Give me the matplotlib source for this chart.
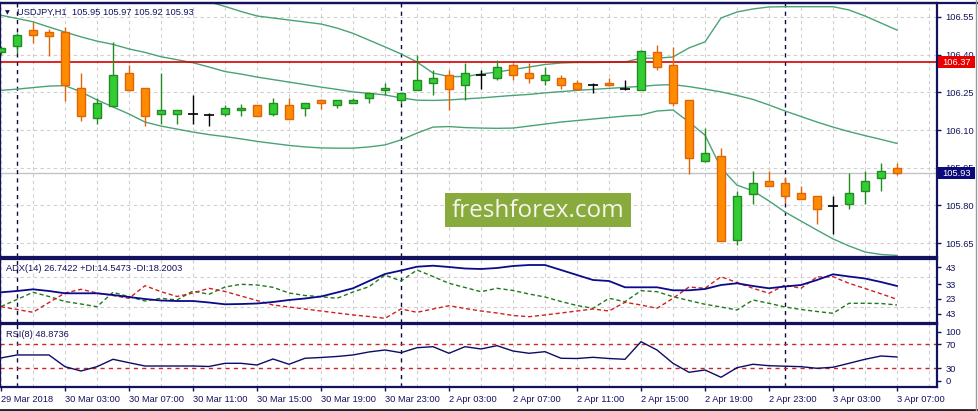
import matplotlib
matplotlib.use('Agg')
import matplotlib.pyplot as plt
from matplotlib.patches import Rectangle

W, H, DPI = 979, 411, 100
plt.rcParams['font.family'] = ['Liberation Sans', 'DejaVu Sans']

# ---------------- data (USDJPY H1, 29 Mar 23:00 .. 3 Apr 07:00) ----------------
opens = [106.411, 106.436, 106.497, 106.490, 106.489, 106.266, 106.147, 106.197, 106.327, 106.266,
         106.165, 106.165, 106.165, 106.160, 106.165, 106.178, 106.198, 106.166, 106.198, 106.186,
         106.219, 106.199, 106.207, 106.227, 106.258, 106.219, 106.258, 106.286, 106.318, 106.278,
         106.318, 106.306, 106.358, 106.327, 106.298, 106.306, 106.286, 106.278, 106.286, 106.265,
         106.258, 106.410, 106.358, 106.219, 105.976, 105.996, 105.664, 105.847, 105.896, 105.888,
         105.848, 105.837, 105.797, 105.805, 105.856, 105.908, 105.95]
highs = [106.435, 106.486, 106.529, 106.502, 106.509, 106.328, 106.227, 106.449, 106.360, 106.267,
         106.328, 106.180, 106.238, 106.168, 106.199, 106.205, 106.200, 106.226, 106.226, 106.208,
         106.224, 106.220, 106.226, 106.248, 106.286, 106.248, 106.399, 106.338, 106.338, 106.368,
         106.338, 106.378, 106.365, 106.368, 106.350, 106.318, 106.298, 106.286, 106.306, 106.298,
         106.417, 106.439, 106.432, 106.219, 106.110, 106.030, 105.858, 105.937, 105.937, 105.912,
         105.877, 105.836, 105.837, 105.928, 105.937, 105.968, 105.97]
lows = [106.399, 106.407, 106.448, 106.396, 106.217, 106.137, 106.124, 106.196, 106.256, 106.116,
        106.124, 106.125, 106.125, 106.117, 106.157, 106.157, 106.156, 106.157, 106.144, 106.158,
        106.185, 106.187, 106.206, 106.207, 106.238, 106.207, 106.258, 106.238, 106.179, 106.219,
        106.265, 106.298, 106.298, 106.286, 106.278, 106.265, 106.258, 106.246, 106.277, 106.258,
        106.258, 106.338, 106.196, 105.926, 105.975, 105.657, 105.644, 105.805, 105.876, 105.810,
        105.824, 105.725, 105.685, 105.785, 105.805, 105.856, 105.92]
closes = [106.427, 106.478, 106.477, 106.476, 106.278, 106.157, 106.207, 106.318, 106.258, 106.157,
          106.179, 106.179, 106.165, 106.160, 106.187, 106.187, 106.158, 106.206, 106.146, 106.206,
          106.206, 106.219, 106.219, 106.246, 106.266, 106.246, 106.298, 106.306, 106.265, 106.327,
          106.318, 106.350, 106.318, 106.306, 106.318, 106.278, 106.265, 106.278, 106.278, 106.265,
          106.416, 106.350, 106.207, 105.988, 106.008, 105.657, 105.837, 105.888, 105.876, 105.837,
          105.825, 105.785, 105.797, 105.848, 105.896, 105.936, 105.93]

bb_upper = [106.856, 106.825, 106.793, 106.745, 106.703, 106.691, 106.689, 106.689, 106.681, 106.685,
            106.668, 106.655, 106.644, 106.610, 106.592, 106.572, 106.554, 106.546, 106.538, 106.530,
            106.522, 106.506, 106.485, 106.458, 106.431, 106.403, 106.371, 106.327, 106.313, 106.313,
            106.323, 106.331, 106.341, 106.351, 106.361, 106.367, 106.369, 106.369, 106.370, 106.371,
            106.386, 106.386, 106.391, 106.427, 106.451, 106.546, 106.570, 106.582, 106.590, 106.591,
            106.591, 106.591, 106.591, 106.578, 106.554, 106.526, 106.498]
bb_middle = [106.557, 106.544, 106.531, 106.510, 106.490, 106.471, 106.454, 106.441, 106.423, 106.409,
             106.392, 106.380, 106.368, 106.351, 106.333, 106.323, 106.311, 106.301, 106.291, 106.281,
             106.271, 106.262, 106.252, 106.246, 106.240, 106.228, 106.219, 106.218, 106.220, 106.224,
             106.228, 106.233, 106.238, 106.242, 106.248, 106.253, 106.258, 106.262, 106.266, 106.270,
             106.274, 106.279, 106.281, 106.273, 106.263, 106.252, 106.238, 106.222, 106.200, 106.176,
             106.154, 106.132, 106.112, 106.094, 106.078, 106.063, 106.047]
bb_lower = [106.258, 106.263, 106.269, 106.275, 106.277, 106.252, 106.220, 106.192, 106.164, 106.132,
            106.116, 106.104, 106.092, 106.082, 106.074, 106.065, 106.055, 106.047, 106.039, 106.033,
            106.029, 106.028, 106.028, 106.033, 106.041, 106.061, 106.088, 106.112, 106.114, 106.110,
            106.108, 106.107, 106.108, 106.116, 106.124, 106.132, 106.138, 106.144, 106.150, 106.156,
            106.160, 106.176, 106.180, 106.132, 106.080, 105.949, 105.881, 105.858, 105.818, 105.774,
            105.738, 105.702, 105.667, 105.639, 105.615, 105.605, 105.601]

adx = [22.69, 23.52, 24.61, 23.52, 22.05, 22.05, 22.05, 20.96, 19.68, 18.40,
       17.43, 17.11, 17.11, 16.15, 15.00, 15.19, 15.51, 16.47, 17.75, 18.72,
       20.00, 22.56, 25.26, 29.93, 34.42, 36.67, 39.10, 39.74, 38.91, 37.95,
       37.63, 38.27, 39.55, 40.19, 40.19, 36.99, 33.78, 30.58, 29.93, 25.90,
       25.90, 25.90, 23.97, 23.97, 24.81, 27.37, 28.46, 26.73, 25.26, 26.41,
       27.37, 30.58, 34.23, 32.82, 31.54, 29.29, 26.74]
plus_di = [13.59, 18.08, 22.69, 20.00, 16.79, 15.19, 13.46, 22.69, 19.87, 17.11,
           18.84, 17.76, 23.52, 21.41, 26.09, 27.82, 27.37, 25.90, 22.24, 20.64,
           19.87, 18.84, 22.88, 26.28, 33.78, 29.93, 36.99, 32.82, 28.46, 25.77,
           23.08, 25.26, 23.84, 21.60, 19.68, 16.79, 14.23, 12.43, 18.84, 16.67,
           23.72, 23.08, 19.87, 17.43, 15.00, 13.27, 11.34, 17.76, 15.64, 13.27,
           11.67, 10.38, 9.23, 15.64, 15.64, 15.51, 14.55]
minus_di = [13.46, 11.67, 9.87, 16.15, 22.24, 24.61, 22.24, 20.64, 18.84, 26.92,
            23.08, 20.00, 22.24, 25.26, 23.20, 20.32, 17.43, 14.55, 13.27, 11.99,
            10.70, 9.42, 8.14, 7.18, 6.02, 11.99, 9.87, 11.99, 14.10, 12.31,
            10.70, 9.42, 7.82, 7.05, 8.14, 9.42, 10.70, 11.99, 10.70, 16.28,
            14.55, 12.43, 18.84, 26.09, 25.26, 32.69, 28.97, 25.26, 22.05, 27.37,
            25.26, 32.50, 32.69, 28.46, 25.13, 21.73, 18.20]
rsi = [47.2, 52.2, 52.2, 52.2, 32.7, 25.5, 32.7, 45.0, 39.3, 33.8,
       33.8, 33.8, 33.8, 33.0, 38.3, 38.3, 35.5, 45.5, 36.7, 46.7,
       48.0, 49.7, 52.2, 57.2, 60.5, 56.0, 64.3, 66.0, 55.0, 66.0,
       62.2, 67.7, 58.8, 55.0, 57.7, 46.7, 46.3, 48.3, 46.3, 45.0,
       74.3, 60.5, 38.3, 23.3, 27.2, 15.0, 31.0, 36.7, 34.3, 33.5,
       32.7, 30.0, 31.7, 38.3, 45.0, 50.5, 48.87]

x_label_idx = [0, 4, 8, 12, 16, 20, 24, 28, 32, 36, 40, 44, 48, 52, 56]
x_labels = ['29 Mar 2018', '30 Mar 03:00', '30 Mar 07:00', '30 Mar 11:00', '30 Mar 15:00',
            '30 Mar 19:00', '30 Mar 23:00', '2 Apr 03:00', '2 Apr 07:00', '2 Apr 11:00',
            '2 Apr 15:00', '2 Apr 19:00', '2 Apr 23:00', '3 Apr 03:00', '3 Apr 07:00']
day_sep_idx = [1, 25, 49]
price_ticks = [106.55, 106.40, 106.25, 106.10, 105.95, 105.80, 105.65]
alert_level = 106.37
adx_tick_pos = [38.9, 28.0, 18.4, 8.8]
adx_tick_labels = ['43', '33', '23', '43']
adx_grid = [32.69, 13.46]
rsi_tick_pos = [91.0, 70, 30, 9.3]
rsi_tick_labels = ['100', '70', '30', '0']
rsi_levels = [70, 30]

# ---------------- styling ----------------
NAVY = '#12125e'
GRID = '#cfcfcf'
BB = '#4aa276'
UP_FC, UP_EC = '#32cd32', '#238b23'
DN_FC, DN_EC = '#ff8c00', '#e0650a'
FS = 6.7

fig = plt.figure(figsize=(W / DPI, H / DPI), dpi=DPI, facecolor='white')


def rect(x0, y0, x1, y1):
    return [x0 / W, 1 - y1 / H, (x1 - x0) / W, (y1 - y0) / H]


def fx(x):
    return x / W


def fy(y):
    return 1 - y / H


ax = fig.add_axes(rect(0, 3, 937, 257))
ax_adx = fig.add_axes(rect(0, 259, 937, 322.7))
ax_rsi = fig.add_axes(rect(0, 324, 937, 386.7))

n = len(closes)
idx = list(range(n))
for a in (ax, ax_adx, ax_rsi):
    a.set_xlim(-1 / 16, 936 / 16)
    a.set_facecolor('white')
    for s in a.spines.values():
        s.set_color(NAVY)
        s.set_linewidth(1.6)
    for k in range(0, 59, 2):
        a.axvline(k, color=GRID, lw=0.8, ls=(0, (3, 3)), zorder=0)
    for d in day_sep_idx:
        a.axvline(d, color='#0c0c3c', lw=1.0, ls=(0, (3, 3)), zorder=1)
    a.yaxis.tick_right()
    a.tick_params(axis='y', colors=NAVY, labelcolor=NAVY, length=3, width=1,
                  pad=3, labelsize=FS)
    a.tick_params(axis='x', bottom=False, labelbottom=False)

# ---------------- main price panel ----------------
ax.set_ylim(105.595, 106.6057)
ax.set_yticks(price_ticks)
ax.set_yticklabels([f'{p:.2f}' for p in price_ticks])
for p in price_ticks:
    ax.axhline(p, color=GRID, lw=0.8, ls=(0, (3, 3)), zorder=0)
ax.axhline(closes[-1], color='#c4c4c4', lw=1.0, zorder=0.5)
ax.axhline(alert_level, color='#d40000', lw=1.2, zorder=1.8)

for band in (bb_upper, bb_middle, bb_lower):
    ax.plot(idx, band, color=BB, lw=1.0, zorder=1.5)

bw = 0.56
for i, (o, h, l, c) in enumerate(zip(opens, highs, lows, closes)):
    if c > o:
        fc, ec = UP_FC, UP_EC
    elif c < o:
        fc, ec = DN_FC, DN_EC
    else:
        fc, ec = None, 'black'
    ax.vlines(i, l, h, color=ec, lw=1.0, zorder=2)
    if fc is None:
        ax.hlines(o, i - bw / 2 - 0.05, i + bw / 2 + 0.05, color='black', lw=1.2, zorder=3)
    else:
        ax.add_patch(Rectangle((i - bw / 2, min(o, c)), bw, abs(c - o),
                               facecolor=fc, edgecolor=ec, lw=1.0, zorder=3))

# ---------------- ADX panel ----------------
ax_adx.set_ylim(3.20, 44.04)
ax_adx.set_yticks(adx_tick_pos)
ax_adx.set_yticklabels(adx_tick_labels)
for g in adx_grid:
    ax_adx.axhline(g, color=GRID, lw=0.8, ls=(0, (3, 3)), zorder=0)
ax_adx.plot(idx, adx, color='#0a0a8c', lw=1.3, zorder=3)
ax_adx.plot(idx, plus_di, color='#1e7a1e', lw=1.0, ls=(0, (3, 2)), zorder=2)
ax_adx.plot(idx, minus_di, color='#d02020', lw=1.0, ls=(0, (3, 2)), zorder=2)

# ---------------- RSI panel ----------------
ax_rsi.set_ylim(-0.67, 103.8)
ax_rsi.set_yticks(rsi_tick_pos)
ax_rsi.set_yticklabels(rsi_tick_labels)
for lv in rsi_levels:
    ax_rsi.axhline(lv, color='#c82828', lw=1.0, ls=(0, (3, 3)), zorder=1)
ax_rsi.plot(idx, rsi, color='#0c0c66', lw=1.0, zorder=3)
ax_rsi.tick_params(axis='x', bottom=True, labelbottom=True, colors=NAVY,
                   labelcolor=NAVY, length=3, width=1, pad=3, labelsize=FS)
ax_rsi.set_xticks(x_label_idx)
ax_rsi.set_xticklabels(x_labels, ha='left')

# ---------------- texts ----------------
fig.text(fx(7.5), fy(12.5), '\u25bc', fontsize=4.5, color=NAVY, ha='center', va='center',
         family=['DejaVu Sans'])
fig.text(fx(17), fy(12), 'USDJPY,H1  105.95 105.97 105.92 105.93', fontsize=FS,
         color=NAVY, ha='left', va='center')
fig.text(fx(6), fy(268.3), 'ADX(14) 26.7422 +DI:14.5473 -DI:18.2003', fontsize=FS,
         color=NAVY, ha='left', va='center')
fig.text(fx(6), fy(334), 'RSI(8) 48.8736', fontsize=FS, color=NAVY, ha='left', va='center')

# price boxes on the axis
fig.add_artist(Rectangle((fx(938), fy(68)), 37 / W, 11.5 / H, transform=fig.transFigure,
                         facecolor='#e80000', edgecolor='none', zorder=10))
fig.text(fx(942), fy(62.2), f'{alert_level:.2f}', fontsize=FS, color='white',
         ha='left', va='center', zorder=11)
fig.add_artist(Rectangle((fx(938), fy(178.8)), 37 / W, 11.5 / H, transform=fig.transFigure,
                         facecolor='#0a0a7a', edgecolor='none', zorder=10))
fig.text(fx(942), fy(173), f'{closes[-1]:.2f}', fontsize=FS, color='white',
         ha='left', va='center', zorder=11)

# watermark
fig.add_artist(Rectangle((fx(445), fy(227)), 186 / W, 34 / H, transform=fig.transFigure,
                         facecolor='#89aa3c', edgecolor='none', zorder=10))
fig.text(fx(538), fy(210.5), 'freshforex.com', fontsize=17.5, color='#f4f6ec',
         ha='center', va='center', family=['Open Sans', 'DejaVu Sans'], zorder=11)

# window frame bits
fig.add_artist(plt.Line2D([0, 1], [fy(3), fy(3)], transform=fig.transFigure,
                          color=NAVY, lw=1.6, zorder=9))
fig.add_artist(plt.Line2D([0, 1], [fy(409.5), fy(409.5)], transform=fig.transFigure,
                          color='#202020', lw=2.0, zorder=9))
fig.add_artist(plt.Line2D([fx(976), fx(976)], [0, 1], transform=fig.transFigure,
                          color='#9a9a9a', lw=1.0, zorder=9))

fig.savefig('out.png', dpi=DPI, facecolor='white')
